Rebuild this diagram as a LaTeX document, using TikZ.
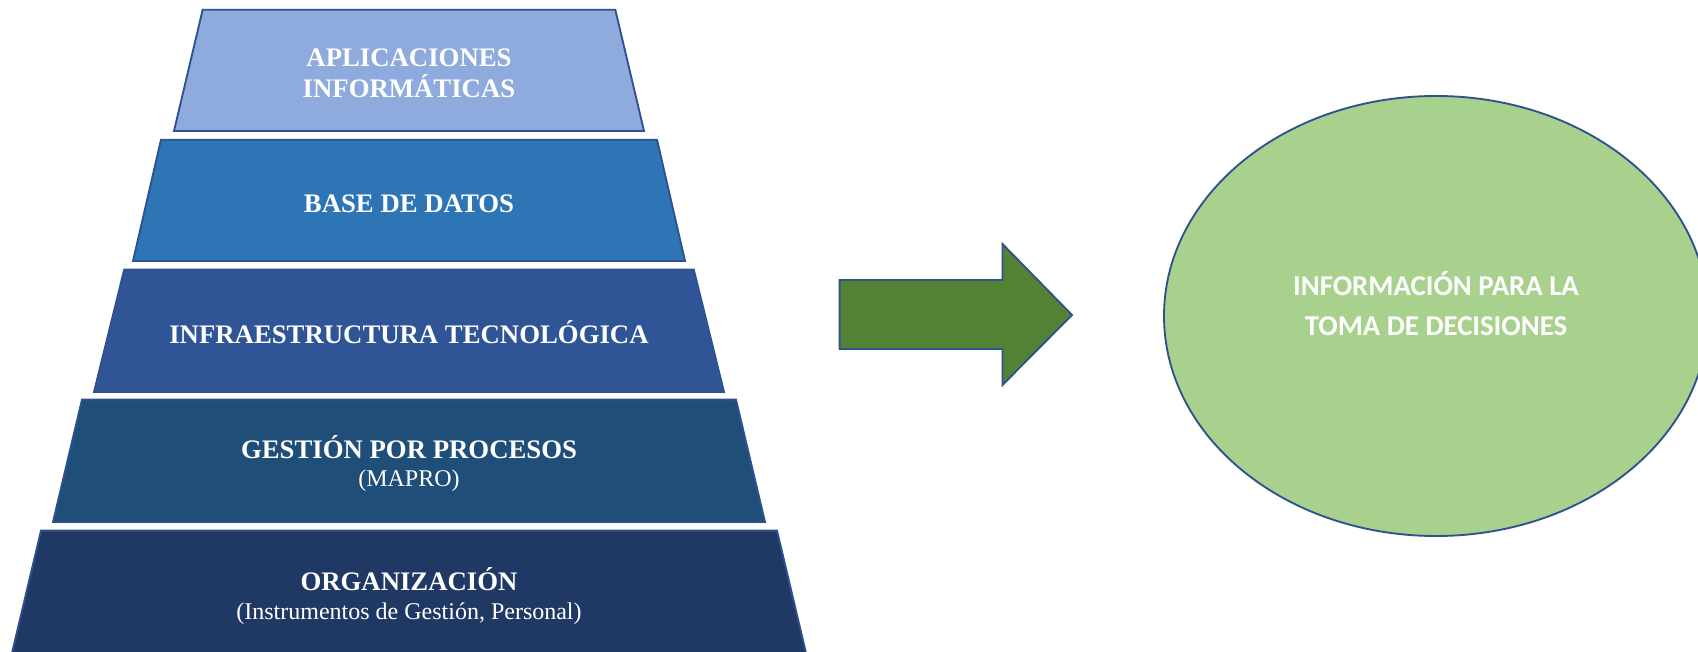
\documentclass[tikz,border=0pt]{standalone}
\usepackage{fontspec}
\setmainfont{Liberation Serif}
\newfontfamily\calibri{Carlito}
\definecolor{nivelA}{HTML}{8FAADC}
\definecolor{nivelB}{HTML}{2E75B6}
\definecolor{nivelC}{HTML}{2F5597}
\definecolor{nivelD}{HTML}{1F4E79}
\definecolor{nivelE}{HTML}{203864}
\definecolor{borde}{HTML}{2F528F}
\definecolor{flecha}{HTML}{548235}
\definecolor{ovalo}{HTML}{A9D18E}
\tikzset{
	nivel/.style={draw=borde,line width=0.75pt,line join=miter},
	rotulo/.style={text=white,inner sep=0pt,anchor=base,font=\bfseries\fontsize{10.7}{12}\selectfont},
	subrotulo/.style={text=white,inner sep=0pt,anchor=base,font=\fontsize{9.6}{11}\selectfont},
	rotuloovalo/.style={text=white,inner sep=0pt,anchor=base,font=\calibri\bfseries\fontsize{11.5}{13}\selectfont}
}
\begin{document}
\begin{tikzpicture}[x=0.4pt,y=-0.4pt]
	\useasboundingbox (0,0) rectangle (1698,652);
	\clip (0,0) rectangle (1698,652);
	\fill[white] (0,0) rectangle (1698,652);
	% piramide
	\draw[nivel,fill=nivelA] (202.7,9.7) -- (615.3,9.7) -- (644,131) -- (174,131) -- cycle;
	\draw[nivel,fill=nivelB] (161,139.7) -- (657,139.7) -- (685,261) -- (133,261) -- cycle;
	\draw[nivel,fill=nivelC] (124.2,269.6) -- (693.8,269.6) -- (724,392) -- (94,392) -- cycle;
	\draw[nivel,fill=nivelD] (82,399.6) -- (736,399.6) -- (765,522) -- (53,522) -- cycle;
	\draw[nivel,fill=nivelE] (41,530.6) -- (777,530.6) -- (806,653) -- (12,653) -- cycle;
	\node[rotulo] (apl) at (409,66.7) {APLICACIONES};
	\node[rotulo] (inf) at (409,97.7) {INFORMÁTICAS};
	\node[rotulo] (bd) at (409,212.7) {BASE DE DATOS};
	\node[rotulo] (tec) at (409,343.3) {INFRAESTRUCTURA TECNOLÓGICA};
	\node[rotulo] (gest) at (409,458.3) {GESTIÓN POR PROCESOS};
	\node[subrotulo] (mapro) at (409,486.7) {(MAPRO)};
	\node[rotulo] (org) at (409,590.7) {ORGANIZACIÓN};
	\node[subrotulo] (instr) at (409,619) {(Instrumentos de Gestión, Personal)};
	% flecha
	\draw[nivel,fill=flecha] (839.6,280) -- (1002.5,280) -- (1002.5,244) -- (1072,315)
		-- (1002.5,385) -- (1002.5,349) -- (839.6,349) -- cycle;
	% ovalo
	\draw[nivel,fill=ovalo] (1436,316) ellipse [x radius=272,y radius=220];
	\node[rotuloovalo] (info) at (1436,296) {INFORMACIÓN PARA LA};
	\node[rotuloovalo] (toma) at (1436,335) {TOMA DE DECISIONES};
\end{tikzpicture}
\end{document}
